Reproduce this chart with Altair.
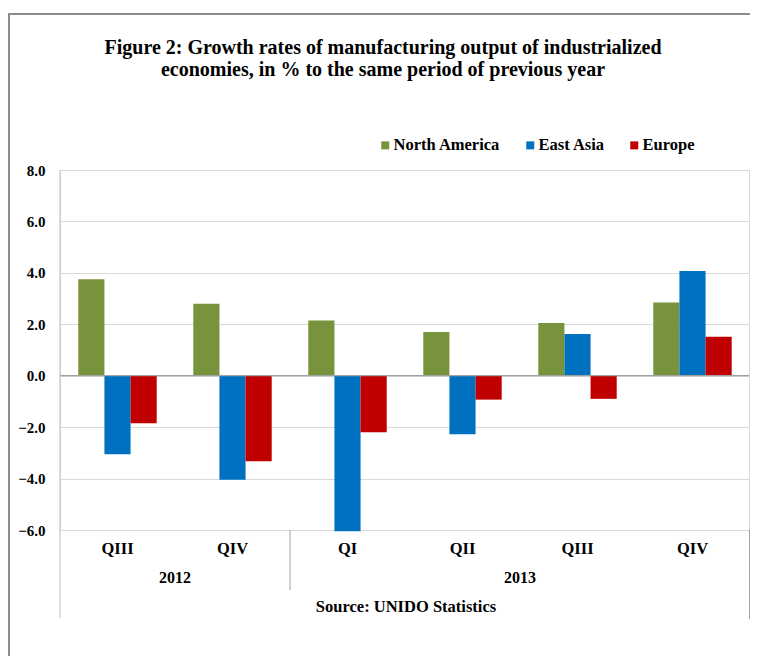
import altair as alt
import pandas as pd

# ---- data ----
quarters = ["2012 QIII", "2012 QIV", "2013 QI", "2013 QII", "2013 QIII", "2013 QIV"]
series = ["North America", "East Asia", "Europe"]
north_america = [3.75, 2.80, 2.15, 1.70, 2.05, 2.85]
east_asia = [-3.05, -4.05, -6.05, -2.28, 1.62, 4.07]
europe = [-1.85, -3.33, -2.20, -0.93, -0.90, 1.52]
colors = ["#77933C", "#0070C0", "#C00000"]

year_labels = ["2012", "2013"]
year_anchor = ["2012 QIV", "2013 QIII"]   # year label sits on left edge of this band
separator_at = ["2013 QI"]
y_ticks = [-6, -4, -2, 0, 2, 4, 6, 8]
title_lines = [
    "Figure 2: Growth rates of manufacturing output of industrialized",
    "economies, in % to the same period of previous year",
]
source_text = "Source: UNIDO Statistics"

FONT = "Liberation Serif"
W, H = 690, 360

rows = []
for i, q in enumerate(quarters):
    rows.append({"quarter": q, "series": series[0], "value": north_america[i]})
    rows.append({"quarter": q, "series": series[1], "value": east_asia[i]})
    rows.append({"quarter": q, "series": series[2], "value": europe[i]})
df = pd.DataFrame(rows)

xscale = alt.Scale(domain=quarters, paddingInner=0, paddingOuter=0)

bars = alt.Chart(df).mark_bar().encode(
    x=alt.X("quarter:N", sort=quarters, scale=xscale,
            axis=alt.Axis(title=None, labelExpr="split(datum.value, ' ')[1]",
                          domain=False, ticks=False, labelPadding=10,
                          labelFont=FONT, labelFontSize=16.5, labelFontWeight="bold",
                          labelColor="black", grid=False, labelAngle=0)),
    xOffset=alt.XOffset("series:N", sort=series,
                        scale=alt.Scale(domain=series, paddingInner=0, paddingOuter=0.7)),
    y=alt.Y("value:Q", scale=alt.Scale(domain=[-6, 8], nice=False, zero=False),
            axis=alt.Axis(title=None, values=y_ticks, format=".1f", domain=False,
                          ticks=False, tickSize=0, labelPadding=15,
                          gridColor="#D9D9D9", gridWidth=1,
                          labelFont=FONT, labelFontSize=15, labelFontWeight="bold",
                          labelColor="black")),
    color=alt.Color("series:N", sort=series,
                    scale=alt.Scale(domain=series, range=colors),
                    legend=alt.Legend(orient="none", legendX=317, legendY=-33,
                                      direction="horizontal", columns=3, title=None,
                                      symbolType="square", symbolSize=64,
                                      symbolStrokeWidth=0, labelFont=FONT,
                                      labelFontSize=16.5, labelFontWeight="bold",
                                      labelColor="black", columnPadding=21,
                                      labelOffset=0, padding=0)),
)

zero = alt.Chart(pd.DataFrame({"v": [0]})).mark_rule(color="#A0A0A0", strokeWidth=1.2).encode(
    y=alt.Y("v:Q"))

one = pd.DataFrame({"a": [0]})

years = alt.Chart(pd.DataFrame({"quarter": year_anchor, "label": year_labels})).mark_text(
    font=FONT, fontSize=16, fontWeight="bold", color="black", baseline="middle"
).encode(x=alt.X("quarter:N", bandPosition=0), y=alt.value(408), text="label:N")

seps = alt.Chart(pd.DataFrame({"quarter": separator_at})).mark_rule(
    color="#A0A0A0", strokeWidth=1
).encode(x=alt.X("quarter:N", bandPosition=0), y=alt.value(H), y2=alt.value(H + 60))

left_line = alt.Chart(one).mark_rule(color="#BFBFBF", strokeWidth=1).encode(
    x=alt.value(0), y=alt.value(0), y2=alt.value(448))
right_top = alt.Chart(one).mark_rule(color="#D9D9D9", strokeWidth=1).encode(
    x=alt.value(W - 0.5), y=alt.value(0), y2=alt.value(H))
right_bottom = alt.Chart(one).mark_rule(color="#A0A0A0", strokeWidth=1).encode(
    x=alt.value(W - 0.5), y=alt.value(H), y2=alt.value(449))

frame_left = alt.Chart(one).mark_rule(color="#8C8C8C", strokeWidth=2).encode(
    x=alt.value(-51), y=alt.value(-156), y2=alt.value(520))
frame_top = alt.Chart(one).mark_rule(color="#8C8C8C", strokeWidth=2).encode(
    x=alt.value(-52), x2=alt.value(W), y=alt.value(-156))

title = alt.Chart(one).mark_text(
    text=title_lines, font=FONT, fontSize=20, fontWeight="bold", color="black",
    align="center", baseline="alphabetic", lineHeight=22
).encode(x=alt.value(323), y=alt.value(-116))

source = alt.Chart(one).mark_text(
    text=source_text, font=FONT, fontSize=16.5, fontWeight="bold", color="black",
    align="center", baseline="middle"
).encode(x=alt.value(346), y=alt.value(437))

chart = alt.layer(
    bars, zero, years, seps, left_line, right_top, right_bottom,
    frame_left, frame_top, title, source
).properties(
    width=W, height=H,
    autosize=alt.AutoSizeParams(type="none"),
    padding={"left": 52, "top": 162, "right": 0, "bottom": 126},
).configure_view(stroke=None).configure(background="white")

chart.save("out.html", embed_options={"renderer": "svg", "actions": False})
